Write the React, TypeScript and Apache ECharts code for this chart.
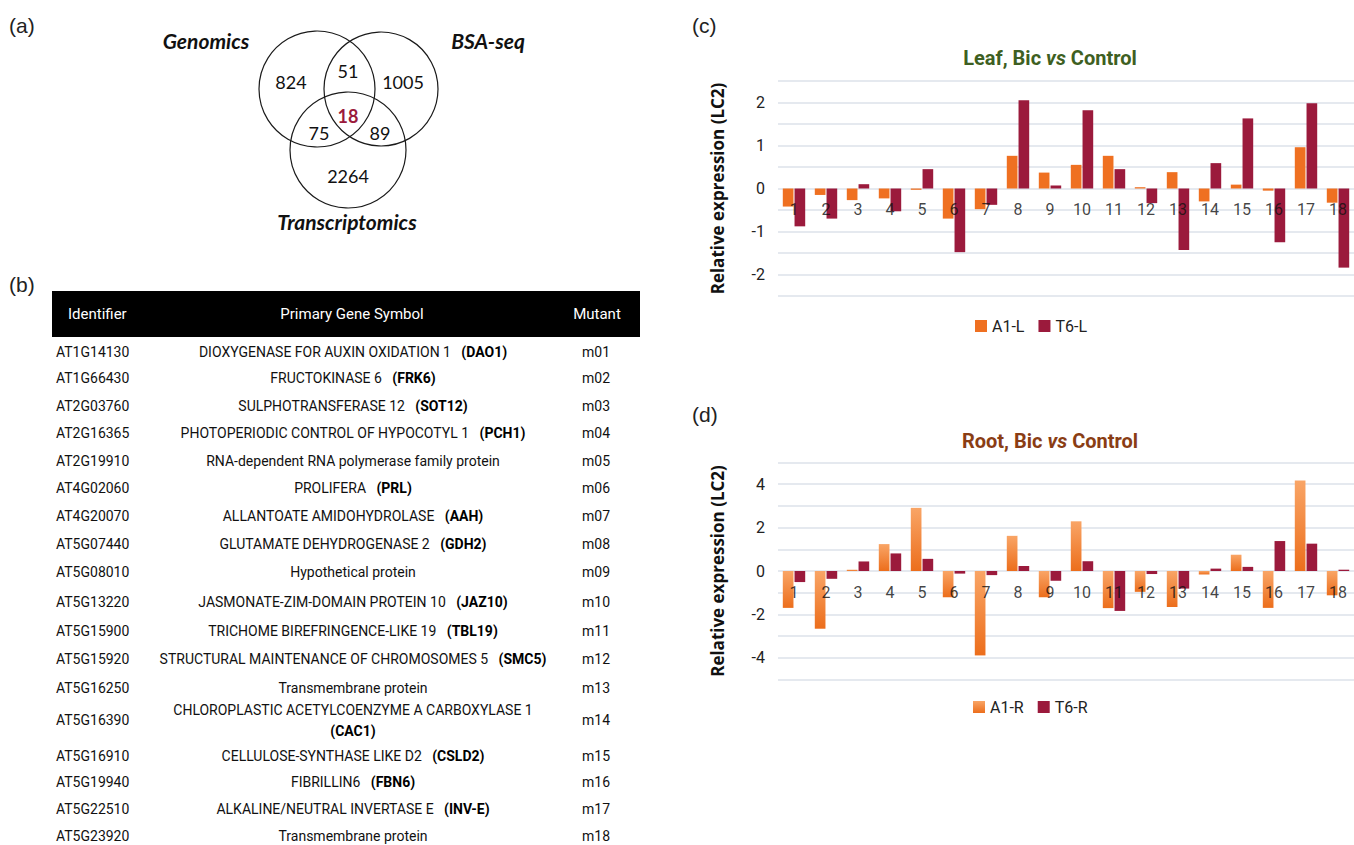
import React, { useEffect, useRef } from "react";
import * as echarts from "echarts";

const categories = ["1","2","3","4","5","6","7","8","9","10","11","12","13","14","15","16","17","18"];
const leafA1 = [-0.42,-0.15,-0.27,-0.23,-0.03,-0.70,-0.48,0.76,0.37,0.55,0.76,0.03,0.38,-0.30,0.09,-0.05,0.96,-0.33];
const leafT6 = [-0.88,-0.70,0.10,-0.53,0.45,-1.48,-0.38,2.05,0.07,1.82,0.45,-0.34,-1.43,0.59,1.63,-1.25,1.98,-1.84];
const rootA1 = [-1.70,-2.66,0.06,1.24,2.91,-1.21,-3.89,1.62,-1.21,2.29,-1.71,-0.96,-1.66,-0.16,0.75,-1.70,4.17,-1.12];
const rootT6 = [-0.51,-0.36,0.44,0.81,0.56,-0.12,-0.19,0.23,-0.45,0.45,-1.84,-0.14,-0.81,0.11,0.19,1.38,1.26,0.06];

const vennSets = ["Genomics", "BSA-seq", "Transcriptomics"];
const vennCounts = ["824", "51", "1005", "18", "75", "89", "2264"];

const tableHeader = ["Identifier", "Primary Gene Symbol", "Mutant"];
const identifiers = ["AT1G14130","AT1G66430","AT2G03760","AT2G16365","AT2G19910","AT4G02060","AT4G20070","AT5G07440","AT5G08010","AT5G13220","AT5G15900","AT5G15920","AT5G16250","AT5G16390","AT5G16910","AT5G19940","AT5G22510","AT5G23920"];
const geneNames = ["DIOXYGENASE FOR AUXIN OXIDATION 1","FRUCTOKINASE 6","SULPHOTRANSFERASE 12","PHOTOPERIODIC CONTROL OF HYPOCOTYL 1","RNA-dependent RNA polymerase family protein","PROLIFERA","ALLANTOATE AMIDOHYDROLASE","GLUTAMATE DEHYDROGENASE 2","Hypothetical protein","JASMONATE-ZIM-DOMAIN PROTEIN 10","TRICHOME BIREFRINGENCE-LIKE 19","STRUCTURAL MAINTENANCE OF CHROMOSOMES 5","Transmembrane protein","CHLOROPLASTIC ACETYLCOENZYME A CARBOXYLASE 1","CELLULOSE-SYNTHASE LIKE D2","FIBRILLIN6","ALKALINE/NEUTRAL INVERTASE E","Transmembrane protein"];
const geneSymbols = ["DAO1","FRK6","SOT12","PCH1","","PRL","AAH","GDH2","","JAZ10","TBL19","SMC5","","CAC1","CSLD2","FBN6","INV-E",""];
const mutants = ["m01","m02","m03","m04","m05","m06","m07","m08","m09","m10","m11","m12","m13","m14","m15","m16","m17","m18"];
const rowY = [352,378,406,433,461,488,516,544,572,602,631,659,688,720,756,782,809,836];

const ORANGE = "#EF7021";
const CRIMSON = "#9B1A3C";
const CHART_FONT = "Roboto, sans-serif";
const TABLE_FONT = "Roboto, sans-serif";

export default function App() {
  const ref = useRef<HTMLDivElement>(null);
  useEffect(() => {
    if (!ref.current) return;
    const chart = echarts.init(ref.current, undefined, { renderer: "svg" });

    const graphics: any[] = [];
    const panel = (t: string, x: number, y: number) =>
      graphics.push({ type: "text", x, y, style: { text: t, fontSize: 21, fontFamily: "'Liberation Sans', Arial, sans-serif", fill: "#222", align: "left", verticalAlign: "middle" } });
    panel("(a)", 9, 25);
    panel("(b)", 9, 284);
    panel("(c)", 692, 25);
    panel("(d)", 692, 414);

    // Venn
    const circles = [
      { cx: 317, cy: 89, r: 58 },
      { cx: 381, cy: 89, r: 57 },
      { cx: 348, cy: 150, r: 58 },
    ];
    circles.forEach((c) =>
      graphics.push({ type: "circle", shape: c, style: { fill: "none", stroke: "#1a1a1a", lineWidth: 1.2 } })
    );
    const setPos = [[206, 40], [488, 40], [347, 221]];
    vennSets.forEach((s, i) =>
      graphics.push({ type: "text", x: setPos[i][0], y: setPos[i][1], style: { text: s, fontSize: 21, fontWeight: "bold", fontStyle: "italic", fontFamily: "Lato, sans-serif", fill: "#111", align: "center", verticalAlign: "middle" } })
    );
    const cntPos = [[291, 82], [348, 71], [403, 82], [348, 116], [319, 133], [380, 133], [348, 176]];
    vennCounts.forEach((c, i) =>
      graphics.push({ type: "text", x: cntPos[i][0], y: cntPos[i][1], style: { text: c, fontSize: 18, fontWeight: i === 3 ? "bold" : "normal", fontFamily: "Lato, sans-serif", fill: i === 3 ? CRIMSON : "#111", align: "center", verticalAlign: "middle" } })
    );

    // Table
    graphics.push({ type: "rect", shape: { x: 52, y: 291, width: 588, height: 46 }, style: { fill: "#000" } });
    const hdrX = [68, 352, 597];
    tableHeader.forEach((h, i) =>
      graphics.push({ type: "text", x: hdrX[i], y: 314, style: { text: h, fontSize: 15, fontFamily: TABLE_FONT, fill: "#fff", align: i === 0 ? "left" : "center", verticalAlign: "middle" } })
    );
    identifiers.forEach((id, i) => {
      const y = rowY[i];
      graphics.push({ type: "text", x: 56, y, style: { text: id, fontSize: 14, fontFamily: TABLE_FONT, fill: "#111", align: "left", verticalAlign: "middle" } });
      graphics.push({ type: "text", x: 596, y, style: { text: mutants[i], fontSize: 14, fontFamily: TABLE_FONT, fill: "#111", align: "center", verticalAlign: "middle" } });
      const sym = geneSymbols[i];
      let txt: string;
      if (!sym) txt = `{n|${geneNames[i]}}`;
      else if (geneNames[i].length > 40) txt = `{n|${geneNames[i]}}\n{b|(${sym})}`;
      else txt = `{n|${geneNames[i]}   }{b|(${sym})}`;
      graphics.push({
        type: "text", x: 353, y,
        style: {
          text: txt, align: "center", verticalAlign: "middle", fill: "#111",
          rich: {
            n: { fontSize: 14, fontFamily: TABLE_FONT, fill: "#111", lineHeight: 21 },
            b: { fontSize: 14, fontFamily: TABLE_FONT, fontWeight: "bold", fill: "#000", lineHeight: 21 },
          },
        },
      });
    });

    const mkTitle = (a: string, b: string, color: string, top: number) => ({
      text: `{b|${a} }{i|vs}{b| ${b}}`,
      left: 1045, top, textAlign: "center",
      textStyle: {
        rich: {
          b: { fontSize: 20, fontWeight: "bold", color, fontFamily: CHART_FONT },
          i: { fontSize: 20, fontWeight: "bold", fontStyle: "italic", color, fontFamily: CHART_FONT },
        },
      },
    });

    const yAx = (gi: number, min: number, max: number, interval: number, step: number) => ({
      type: "value", gridIndex: gi, min, max, interval,
      name: "Relative expression (LC2)", nameLocation: "middle", nameGap: 52,
      nameTextStyle: { fontSize: 17, fontWeight: "bold", color: "#111", fontFamily: "'Open Sans', sans-serif" },
      axisLine: { show: false }, axisTick: { show: false },
      axisLabel: {
        fontSize: 16, color: "#222", fontFamily: CHART_FONT, margin: 13,
        formatter: (v: number) => (Math.abs(v % step) < 1e-9 && Math.abs(v) < max - 1e-9 ? String(v) : ""),
      },
      splitLine: { show: true, lineStyle: { color: "#DCE2EA", width: 1.5 } },
    });
    const xAx = (gi: number) => ({
      type: "category", gridIndex: gi, data: categories,
      axisLine: { show: false },
      axisTick: { show: false },
      axisLabel: { show: false },
    });
    // category labels drawn at the zero line (as in the reference), above the bars
    const zeroLabels = (xi: number) => ({
      type: "scatter", xAxisIndex: xi, yAxisIndex: xi, silent: true, symbolSize: 0, z: 10,
      data: categories.map((c) => ({ name: c, value: [c, 0] })),
      label: { show: true, position: "bottom", distance: 13, formatter: "{b}", fontSize: 16, color: "#111", fontFamily: CHART_FONT },
      tooltip: { show: false },
    });

    chart.setOption({
      animation: false,
      backgroundColor: "#fff",
      title: [mkTitle("Leaf, Bic", "Control", "#3E5F22", 43), mkTitle("Root, Bic", "Control", "#8A3D14", 426)],
      grid: [
        { left: 778, width: 580, top: 81, height: 215 },
        { left: 778, width: 580, top: 462.5, height: 217 },
      ],
      xAxis: [xAx(0), xAx(1)],
      yAxis: [yAx(0, -2.5, 2.5, 0.5, 1), yAx(1, -5, 5, 1, 2)],
      legend: [
        { data: ["A1-L", "T6-L"], left: 970, top: 313, icon: "rect", itemWidth: 12, itemHeight: 12, itemGap: 14, textStyle: { fontSize: 16, color: "#222", fontFamily: CHART_FONT } },
        { data: ["A1-R", "T6-R"], left: 968, top: 694, icon: "rect", itemWidth: 12, itemHeight: 12, itemGap: 14, textStyle: { fontSize: 16, color: "#222", fontFamily: CHART_FONT } },
      ],
      series: [
        { name: "A1-L", type: "bar", xAxisIndex: 0, yAxisIndex: 0, data: leafA1, itemStyle: { color: ORANGE }, barGap: "10%", barCategoryGap: "30%" },
        { name: "T6-L", type: "bar", xAxisIndex: 0, yAxisIndex: 0, data: leafT6, itemStyle: { color: CRIMSON }, barGap: "10%", barCategoryGap: "30%" },
        {
          name: "A1-R", type: "bar", xAxisIndex: 1, yAxisIndex: 1, data: rootA1, barGap: "10%", barCategoryGap: "30%",
          itemStyle: { color: new echarts.graphic.LinearGradient(0, 0, 0, 1, [{ offset: 0, color: "#F9A566" }, { offset: 1, color: "#EC6E1C" }]) },
        },
        { name: "T6-R", type: "bar", xAxisIndex: 1, yAxisIndex: 1, data: rootT6, itemStyle: { color: CRIMSON }, barGap: "10%", barCategoryGap: "30%" },
        zeroLabels(0),
        zeroLabels(1),
      ],
      graphic: graphics,
    });
    return () => chart.dispose();
  }, []);
  return <div ref={ref} style={{ position: "absolute", left: 0, top: 0, width: 1354, height: 845, background: "#fff" }} />;
}
